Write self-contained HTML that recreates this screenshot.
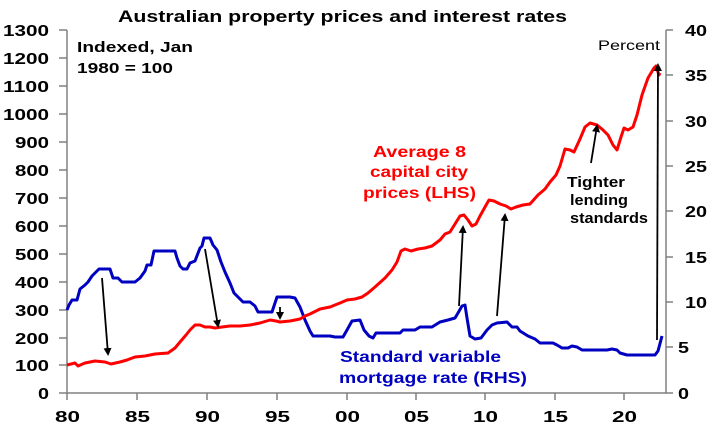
<!DOCTYPE html><html><head><style>body{margin:0;background:#fff}svg{font-family:"Liberation Sans",Arial,sans-serif;font-weight:bold}</style></head><body>
<svg width="711" height="432" viewBox="0 0 711 432">
<defs><marker id="a" markerWidth="8" markerHeight="8" refX="6" refY="4" orient="auto" markerUnits="userSpaceOnUse"><path d="M0,0 L8,4 L0,8 Z" fill="#000"/></marker></defs>
<text x="118" y="22" font-size="17" textLength="449" lengthAdjust="spacingAndGlyphs">Australian property prices and interest rates</text>
<g stroke="#808080" stroke-width="1.5" fill="none">
<path d="M67,30 V393 H666 V30"/>
<path d="M59,30H67M59,58H67M59,86H67M59,114H67M59,142H67M59,170H67M59,198H67M59,226H67M59,254H67M59,282H67M59,310H67M59,338H67M59,365H67M59,393H67"/>
<path d="M666,30H673M666,75H673M666,121H673M666,166H673M666,211H673M666,257H673M666,302H673M666,347H673M666,393H673"/>
<path d="M67,393V400M137,393V400M207,393V400M277,393V400M347,393V400M416,393V400M485,393V400M555,393V400M624,393V400"/>
</g>
<g font-size="16">
<text x="3" y="36" textLength="46" lengthAdjust="spacingAndGlyphs">1300</text>
<text x="3" y="64" textLength="46" lengthAdjust="spacingAndGlyphs">1200</text>
<text x="3" y="92" textLength="46" lengthAdjust="spacingAndGlyphs">1100</text>
<text x="3" y="120" textLength="46" lengthAdjust="spacingAndGlyphs">1000</text>
<text x="15" y="148" textLength="34" lengthAdjust="spacingAndGlyphs">900</text>
<text x="15" y="176" textLength="34" lengthAdjust="spacingAndGlyphs">800</text>
<text x="15" y="204" textLength="34" lengthAdjust="spacingAndGlyphs">700</text>
<text x="15" y="232" textLength="34" lengthAdjust="spacingAndGlyphs">600</text>
<text x="15" y="260" textLength="34" lengthAdjust="spacingAndGlyphs">500</text>
<text x="15" y="288" textLength="34" lengthAdjust="spacingAndGlyphs">400</text>
<text x="15" y="316" textLength="34" lengthAdjust="spacingAndGlyphs">300</text>
<text x="15" y="344" textLength="34" lengthAdjust="spacingAndGlyphs">200</text>
<text x="15" y="371" textLength="34" lengthAdjust="spacingAndGlyphs">100</text>
<text x="38" y="399" textLength="11" lengthAdjust="spacingAndGlyphs">0</text>
</g>
<g font-size="16">
<text x="685" y="36" textLength="22" lengthAdjust="spacingAndGlyphs">40</text>
<text x="685" y="81" textLength="22" lengthAdjust="spacingAndGlyphs">35</text>
<text x="685" y="127" textLength="22" lengthAdjust="spacingAndGlyphs">30</text>
<text x="685" y="172" textLength="22" lengthAdjust="spacingAndGlyphs">25</text>
<text x="685" y="217" textLength="22" lengthAdjust="spacingAndGlyphs">20</text>
<text x="685" y="263" textLength="22" lengthAdjust="spacingAndGlyphs">15</text>
<text x="685" y="308" textLength="22" lengthAdjust="spacingAndGlyphs">10</text>
<text x="678" y="353" textLength="11" lengthAdjust="spacingAndGlyphs">5</text>
<text x="678" y="399" textLength="11" lengthAdjust="spacingAndGlyphs">0</text>
</g>
<g font-size="16">
<text x="55" y="422" textLength="25" lengthAdjust="spacingAndGlyphs">80</text>
<text x="125" y="422" textLength="25" lengthAdjust="spacingAndGlyphs">85</text>
<text x="195" y="422" textLength="25" lengthAdjust="spacingAndGlyphs">90</text>
<text x="265" y="422" textLength="25" lengthAdjust="spacingAndGlyphs">95</text>
<text x="335" y="422" textLength="25" lengthAdjust="spacingAndGlyphs">00</text>
<text x="404" y="422" textLength="25" lengthAdjust="spacingAndGlyphs">05</text>
<text x="473" y="422" textLength="25" lengthAdjust="spacingAndGlyphs">10</text>
<text x="543" y="422" textLength="25" lengthAdjust="spacingAndGlyphs">15</text>
<text x="612" y="422" textLength="25" lengthAdjust="spacingAndGlyphs">20</text>
</g>
<polyline fill="none" stroke="#0000c0" stroke-width="3" stroke-linejoin="round" points="67,310 69,305 72,300 77,300 80,289 85,285 88,282 92,276 96,272 99,269 110,269 113,278 118,278 122,282 135,282 140,278 145,271 147,265 151,265 154,251 163,251 175,251 177,258 180,266 183,269 187,269 190,263 195,261 200,248 202,246 204,238 210,238 213,245 217,250 221,262 225,272 230,283 234,293 238,297 243,302 250,302 255,306 258,312 272,312 277,297 290,297 295,298 300,307 305,320 310,331 313,336 330,336 335,337 343,337 347,330 352,321 360,320 364,330 369,336 373,338 376,333 400,333 403,330 415,330 420,327 432,327 440,322 448,320 455,318 458,313 462,306 465,305 467,318 470,336 475,339 481,338 487,330 492,325 497,323 507,322 512,327 517,327 520,331 528,336 535,339 540,343 553,343 557,345 562,348 568,348 572,346 577,347 582,350 597,350 607,350 612,349 617,350 620,353 627,355 655,355 658,351 662,336"/>
<polyline fill="none" stroke="#ff0000" stroke-width="3" stroke-linejoin="round" points="67,365 75,363 78,366 85,363 95,361 105,362 111,364 120,362 127,360 135,357 145,356 155,354 168,353 175,348 180,342 186,335 190,330 195,325 200,325 205,327 210,327 215,328 222,327 230,326 240,326 250,325 260,323 270,320 276,321 280,322 290,321 300,319 305,316 310,314 320,309 330,307 340,303 347,300 355,299 362,297 368,293 375,287 385,278 392,270 397,262 401,251 405,249 411,251 418,249 425,248 432,246 440,240 445,234 450,232 455,224 460,216 464,215 468,220 472,226 476,224 480,216 485,207 489,200 494,201 500,204 506,206 511,209 516,207 523,205 530,204 538,195 545,189 550,182 556,175 560,166 565,149 570,150 574,152 580,139 585,127 590,123 597,125 603,130 608,135 613,145 617,150 621,137 624,128 628,130 633,127 637,115 642,95 648,78 654,68 656,66 659,75 660,73"/>
<g stroke="#000" stroke-width="1.8" marker-end="url(#a)">
<line x1="102" y1="278" x2="108" y2="354"/>
<line x1="205" y1="249" x2="218" y2="326"/>
<line x1="280" y1="307" x2="280" y2="318"/>
<line x1="459" y1="306" x2="463" y2="227"/>
<line x1="497" y1="316" x2="505" y2="215"/>
<line x1="657" y1="340" x2="658" y2="65"/>
<line x1="591" y1="163" x2="597" y2="126"/>
</g>
<text x="77" y="52" font-size="15" textLength="116" lengthAdjust="spacingAndGlyphs">Indexed, Jan</text>
<text x="77" y="73" font-size="15" textLength="96" lengthAdjust="spacingAndGlyphs">1980 = 100</text>
<text x="598" y="50" font-size="14" font-weight="normal" textLength="62" lengthAdjust="spacingAndGlyphs">Percent</text>
<g fill="#ff0000" font-size="16">
<text x="373" y="157" textLength="93" lengthAdjust="spacingAndGlyphs">Average 8</text>
<text x="370" y="177" textLength="98" lengthAdjust="spacingAndGlyphs">capital city</text>
<text x="363" y="198" textLength="113" lengthAdjust="spacingAndGlyphs">prices (LHS)</text>
</g>
<g font-size="15">
<text x="567" y="187" textLength="58" lengthAdjust="spacingAndGlyphs">Tighter</text>
<text x="570" y="205" textLength="58" lengthAdjust="spacingAndGlyphs">lending</text>
<text x="570" y="223" textLength="78" lengthAdjust="spacingAndGlyphs">standards</text>
</g>
<g fill="#0000c0" font-size="16">
<text x="340" y="362" textLength="161" lengthAdjust="spacingAndGlyphs">Standard variable</text>
<text x="339" y="383" textLength="188" lengthAdjust="spacingAndGlyphs">mortgage rate (RHS)</text>
</g>
</svg></body></html>
